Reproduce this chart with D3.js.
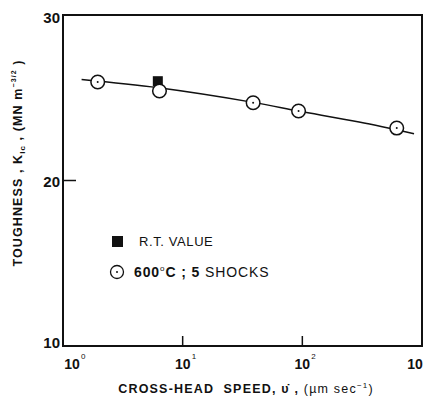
<!DOCTYPE html>
<html>
<head>
<meta charset="utf-8">
<script src="https://cdn.jsdelivr.net/npm/d3@7"></script>
<style>
  html, body { margin: 0; padding: 0; background: #fff; }
  svg { display: block; }
</style>
</head>
<body>
<svg id="chart" width="425" height="397"></svg>
<script>
// Fracture toughness vs cross-head speed
const shockSpeed = [1.95, 6.4, 38.8, 93, 615];          // µm/sec
const shockK = [25.95, 25.41, 24.7, 24.2, 23.17];       // MN m^-3/2, 600°C; 5 shocks
const rtSpeed = [6.2];
const rtK = [26.0];                                     // room-temperature value
const fitSpeed = [1.43, 6.3, 38.8, 93, 298, 858];
const fitK = [26.1, 25.6, 24.72, 24.2, 23.53, 22.83];
const xTickExp = [0, 1, 2, 3];
const yTicks = [10, 20, 30];

const svg = d3.select("#chart");
const L = 63, R = 422, T = 15, B = 346;
const x = d3.scaleLog().domain([1, 1000]).range([L, R]);
const y = d3.scaleLinear().domain([10, 30]).range([B, T]);
const ink = "#111";
const font = "'Liberation Sans', Arial, sans-serif";

// frame
svg.append("rect").attr("x", L).attr("y", T).attr("width", R - L).attr("height", B - T)
  .attr("fill", "none").attr("stroke", ink).attr("stroke-width", 2);

// inner ticks
svg.append("g").selectAll("line").data([10, 100]).join("line")
  .attr("x1", d => x(d)).attr("x2", d => x(d))
  .attr("y1", B).attr("y2", B - 10).attr("stroke", ink).attr("stroke-width", 1.5);
svg.append("line").attr("x1", L).attr("x2", L + 13)
  .attr("y1", y(20)).attr("y2", y(20)).attr("stroke", ink).attr("stroke-width", 1.5);

// y tick labels
svg.append("g").selectAll("text").data(yTicks).join("text")
  .attr("x", L - 3).attr("y", d => y(d) + (d === 30 ? 8 : d === 10 ? 2 : 6))
  .attr("text-anchor", "end").attr("font-family", font).attr("font-weight", "bold")
  .attr("font-size", 15).attr("fill", ink).text(d => d);

// x tick labels: 10 with superscript exponent
const xl = svg.append("g").selectAll("g").data(xTickExp).join("g")
  .attr("transform", d => {
    const px = x(Math.pow(10, d));
    return `translate(${d === 0 ? px + 9 : d === 3 ? px - 7 : px},369)`;
  });
xl.append("text").attr("text-anchor", "middle").attr("font-family", font)
  .attr("font-weight", "bold").attr("font-size", 14).attr("fill", ink).text("10");
xl.filter(d => d < 3).append("text").attr("x", 9).attr("y", -10)
  .attr("font-family", font).attr("font-size", 8).attr("fill", ink).text(d => d);

// axis titles
svg.append("text").attr("x", 246).attr("y", 393).attr("text-anchor", "middle")
  .attr("font-family", font).attr("font-weight", "bold").attr("font-size", 12.5)
  .attr("fill", ink).attr("letter-spacing", 1.2)
  .html("CROSS-HEAD&#160;&#160;SPEED, υ̇ , <tspan font-weight='normal'>(µm sec</tspan><tspan font-weight='normal' font-size='8' dy='-5'>−1</tspan><tspan font-weight='normal' dy='5'>)</tspan>");

svg.append("text").attr("transform", "translate(22,163) rotate(-90)")
  .attr("text-anchor", "middle").attr("font-family", font).attr("font-weight", "bold")
  .attr("font-size", 12.5).attr("fill", ink).attr("letter-spacing", 1.1)
  .html("TOUGHNESS , K<tspan font-size='8' dy='3'>Ic</tspan><tspan dy='-3'> , (MN m</tspan><tspan font-size='7' dy='-6'>−3/2</tspan><tspan dy='6'> )</tspan>");

// fitted curve
const line = d3.line().x((d, i) => x(fitSpeed[i])).y((d, i) => y(fitK[i])).curve(d3.curveCatmullRom.alpha(0.5));
svg.append("path").datum(fitK).attr("d", line)
  .attr("fill", "none").attr("stroke", ink).attr("stroke-width", 1.5);

// room-temperature square
svg.append("g").selectAll("rect").data(rtK).join("rect")
  .attr("x", (d, i) => x(rtSpeed[i]) - 5).attr("y", d => y(d) - 5)
  .attr("width", 10).attr("height", 10).attr("fill", ink);

// shocked specimens: dotted circles
const pts = svg.append("g").selectAll("g").data(shockK).join("g")
  .attr("transform", (d, i) => `translate(${x(shockSpeed[i])},${y(d)})`);
pts.append("circle").attr("r", 6.8).attr("fill", "#fff").attr("stroke", ink).attr("stroke-width", 1.5);
pts.filter((d, i) => i !== 1).append("circle").attr("r", 1).attr("fill", ink);

// legend
svg.append("rect").attr("x", 112).attr("y", 236).attr("width", 11).attr("height", 11).attr("fill", ink);
svg.append("text").attr("x", 139).attr("y", 246).attr("font-family", font)
  .attr("font-size", 13).attr("fill", ink).attr("letter-spacing", 0.6).text("R.T.  VALUE");
svg.append("circle").attr("cx", 117).attr("cy", 272).attr("r", 6.5)
  .attr("fill", "#fff").attr("stroke", ink).attr("stroke-width", 1.3);
svg.append("circle").attr("cx", 117).attr("cy", 272).attr("r", 1).attr("fill", ink);
svg.append("text").attr("x", 134).attr("y", 277).attr("font-family", font)
  .attr("font-size", 14).attr("fill", ink).attr("letter-spacing", 0.9)
  .html("<tspan font-weight='bold'>600</tspan><tspan font-size='8' dy='-6'>o</tspan><tspan dy='6' font-weight='bold'>C ; 5</tspan> SHOCKS");
</script>
</body>
</html>
